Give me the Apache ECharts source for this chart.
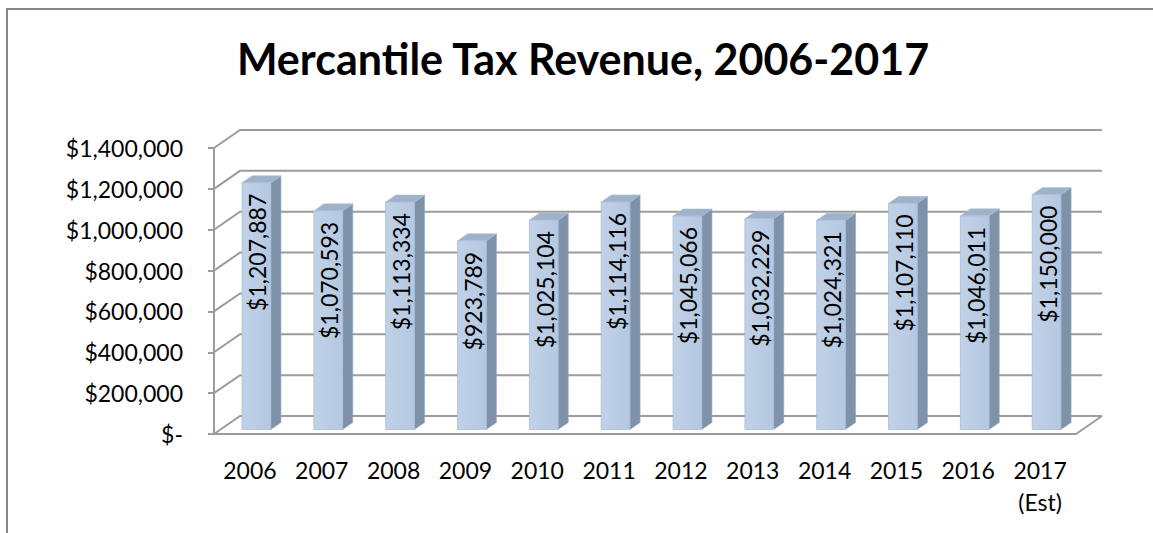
<!DOCTYPE html>
<html><head><meta charset="utf-8">
<script src="https://cdn.jsdelivr.net/npm/echarts@6/dist/echarts.min.js"></script>
<style>html,body{margin:0;padding:0;background:#fff}#c{width:1153px;height:533px}</style>
</head><body><div id="c"></div>
<script>
const categories = ['2006','2007','2008','2009','2010','2011','2012','2013','2014','2015','2016','2017\n(Est)'];
const revenue = [1207887,1070593,1113334,923789,1025104,1114116,1045066,1032229,1024321,1107110,1046011,1150000];
const yTicks = [0,200000,400000,600000,800000,1000000,1200000,1400000];
const titleText = 'Mercantile Tax Revenue, 2006-2017';

const FONT = 'Lato';
const DX = 26, DY = -18;      // depth vector of the 3D box (px)
const T0 = 0.25, T1 = 0.64;   // bar front/back depth fraction
const BAR_W = 0.40;
const GRID_COLOR = '#9c9c9c';

function fmt(v){ return v === 0 ? '$-' : '$' + v.toLocaleString('en-US'); }

function renderWall(params, api){
  const v = api.value(1);
  const band = api.size([1,0])[0];
  const pL = api.coord([0, v]);
  const pR = api.coord([categories.length-1, v]);
  const xL = pL[0]-band/2, xR = pR[0]+band/2, y = pL[1];
  const children = [{type:'polyline', shape:{points:[[xL,y],[xL+DX,y+DY],[xR+DX,y+DY]]},
    style:{stroke:GRID_COLOR, lineWidth:2, fill:null}}];
  if (v === 0) children.push({type:'line', shape:{x1:xR,y1:y,x2:xR+DX,y2:y+DY}, style:{stroke:GRID_COLOR, lineWidth:2}});
  return {type:'group', children};
}

function renderBar(params, api){
  const i = api.value(0), v = api.value(1);
  const band = api.size([1,0])[0];
  const c = api.coord([i, v]), b = api.coord([i, 0]);
  const w = band*BAR_W;
  const ox = DX*T0, oy = DY*T0, sx = DX*(T1-T0), sy = DY*(T1-T0);
  const x0 = c[0]-w/2+ox, x1 = c[0]+w/2+ox, yt = c[1]+oy, yb = b[1]+oy;
  return {type:'group', children:[
    {type:'polygon', shape:{points:[[x1,yt],[x1+sx,yt+sy],[x1+sx,yb+sy],[x1,yb]]},
      style:{fill:'#7e92a9', stroke:'#95a8bf', lineWidth:0.6}},
    {type:'polygon', shape:{points:[[x0,yt],[x0+sx,yt+sy],[x1+sx,yt+sy],[x1,yt]]},
      style:{fill:'#9fb2ca', stroke:'#b0c2d8', lineWidth:0.6}},
    {type:'rect', shape:{x:x0, y:yt, width:w, height:yb-yt},
      style:{fill:{type:'linear',x:0,y:0,x2:1,y2:0,colorStops:[{offset:0,color:'#c0d2e8'},{offset:1,color:'#b4c8e0'}]},
      stroke:'#a9bdd6', lineWidth:0.8}},
    {type:'text', x:(x0+x1)/2 + 1, y:yt+11, rotation:Math.PI/2,
      style:{text:fmt(v), align:'right', verticalAlign:'middle', font:'23px ' + FONT, fill:'#000'}}
  ]};
}

const chart = echarts.init(document.getElementById('c'), null, {renderer:'svg'});
chart.setOption({
  animation:false,
  backgroundColor:'#fff',
  title:{text:titleText, left:583, textAlign:'center', top:37, padding:0,
    textStyle:{fontFamily:FONT, fontWeight:'bold', fontSize:43, color:'#000'}},
  graphic:[{type:'rect', shape:{x:7, y:9, width:1300, height:700}, style:{fill:null, stroke:'#878787', lineWidth:2}, z:-10}],
  grid:{left:214, right:77, top:148, bottom:99},
  xAxis:{type:'category', data:categories, boundaryGap:true,
    axisLine:{lineStyle:{color:GRID_COLOR, width:2}},
    axisTick:{length:6, lineStyle:{color:GRID_COLOR, width:2}},
    axisLabel:{interval:0, margin:20, fontSize:23, lineHeight:32, color:'#000', fontFamily:FONT},
    splitLine:{show:false}},
  yAxis:{type:'value', min:0, max:1400000, interval:200000,
    axisLine:{show:true, lineStyle:{color:GRID_COLOR, width:2}},
    axisTick:{show:true, length:6, lineStyle:{color:GRID_COLOR, width:2}},
    axisLabel:{margin:31, fontSize:23, color:'#000', fontFamily:FONT, formatter:fmt},
    splitLine:{show:false}},
  series:[
    {type:'custom', renderItem:renderWall, data:yTicks.map(v=>[0,v]), encode:{x:0,y:1}, z:1, silent:true},
    {type:'custom', renderItem:renderBar, data:revenue.map((v,i)=>[i,v]), encode:{x:0,y:1}, z:2}
  ]
});
</script></body></html>
